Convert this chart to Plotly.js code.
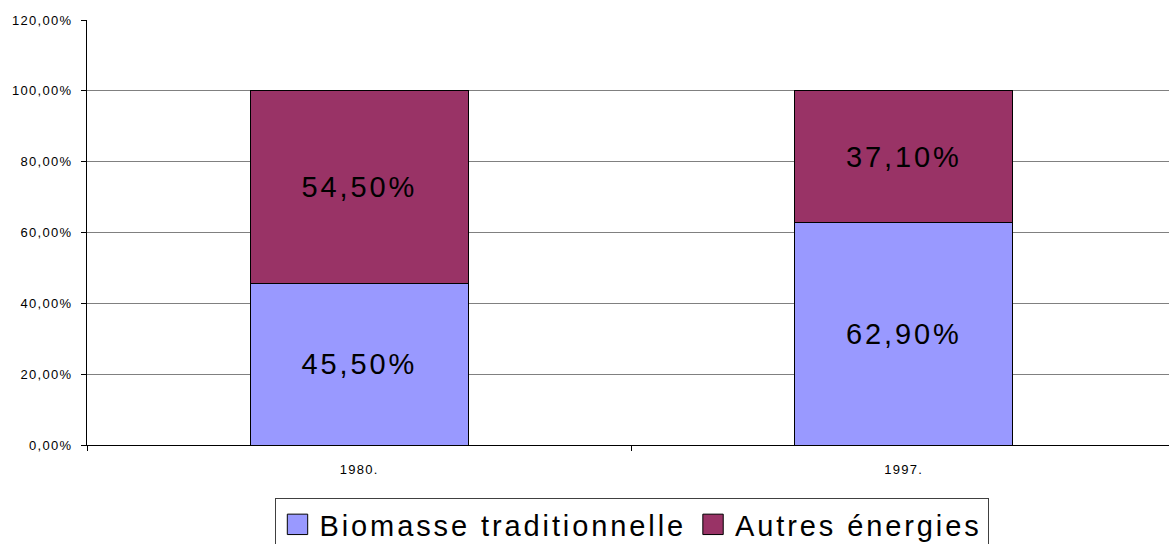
<!DOCTYPE html>
<html>
<head>
<meta charset="utf-8">
<script src="https://cdn.plot.ly/plotly-3.0.1.min.js"></script>
<style>
html,body{margin:0;padding:0;overflow:hidden;background:#fff;}
svg text{letter-spacing:0.1em;}
</style>
</head>
<body>
<div id="chart"></div>
<script>
const categories = ["1980.", "1997."];
const biomasse = [45.5, 62.9];
const autres = [54.5, 37.1];
const seriesNames = ["Biomasse traditionnelle", "Autres énergies"];
const yTicks = [0, 20, 40, 60, 80, 100, 120];

const fmt = v => v.toFixed(2).replace('.', ',') + '%';
const FONT = '"Liberation Sans", Arial, sans-serif';

const mk = (name, vals, color) => ({
  type: 'bar',
  name: name,
  x: categories,
  y: vals,
  text: vals.map(fmt),
  textposition: 'inside',
  insidetextanchor: 'middle',
  textangle: 0,
  constraintext: 'none',
  textfont: {family: FONT, size: 29, color: '#000'},
  marker: {color: color, line: {color: '#000', width: 1}},
  width: 0.4,
  hoverinfo: 'skip'
});

const data = [
  mk(seriesNames[0], biomasse, '#9999FF'),
  mk(seriesNames[1], autres, '#993366')
];

const layout = {
  width: 1176,
  height: 544,
  margin: {l: 87, r: 0, t: 20, b: 99, autoexpand: false},
  barmode: 'stack',
  separators: ',.',
  paper_bgcolor: '#fff',
  plot_bgcolor: '#fff',
  font: {family: FONT, size: 13, color: '#000'},
  showlegend: true,
  legend: {
    orientation: 'h',
    x: 0.5, xanchor: 'center',
    y: -0.1247, yanchor: 'top',
    font: {family: FONT, size: 29, color: '#000'},
    bordercolor: '#404040',
    borderwidth: 1,
    itemwidth: 34,
    traceorder: 'normal'
  },
  xaxis: {
    type: 'category',
    range: [-0.5, 1.5],
    tickson: 'boundaries',
    ticks: 'outside',
    ticklen: 5,
    tickcolor: '#000',
    showgrid: false,
    showline: true,
    linecolor: '#000',
    linewidth: 1,
    ticklabelstandoff: 12,
    tickfont: {family: FONT, size: 13, color: '#000'},
    fixedrange: true
  },
  yaxis: {
    range: [0, 120],
    tickmode: 'array',
    tickvals: yTicks,
    ticktext: yTicks.map(fmt),
    ticks: 'outside',
    ticklen: 5,
    tickcolor: '#000',
    showgrid: true,
    gridcolor: '#808080',
    gridwidth: 1,
    zeroline: false,
    showline: true,
    linecolor: '#000',
    linewidth: 1,
    ticklabelstandoff: 6,
    tickfont: {family: FONT, size: 13, color: '#000'},
    fixedrange: true
  }
};

Plotly.newPlot('chart', data, layout, {displayModeBar: false, staticPlot: true}).then(gd => {
  gd.querySelectorAll('.legend .legendpoints path').forEach(p => {
    const t = p.getAttribute('transform') || '';
    p.setAttribute('transform', (t + ' scale(1.7)').trim());
    p.setAttribute('vector-effect', 'non-scaling-stroke');
  });
});
</script>
</body>
</html>
